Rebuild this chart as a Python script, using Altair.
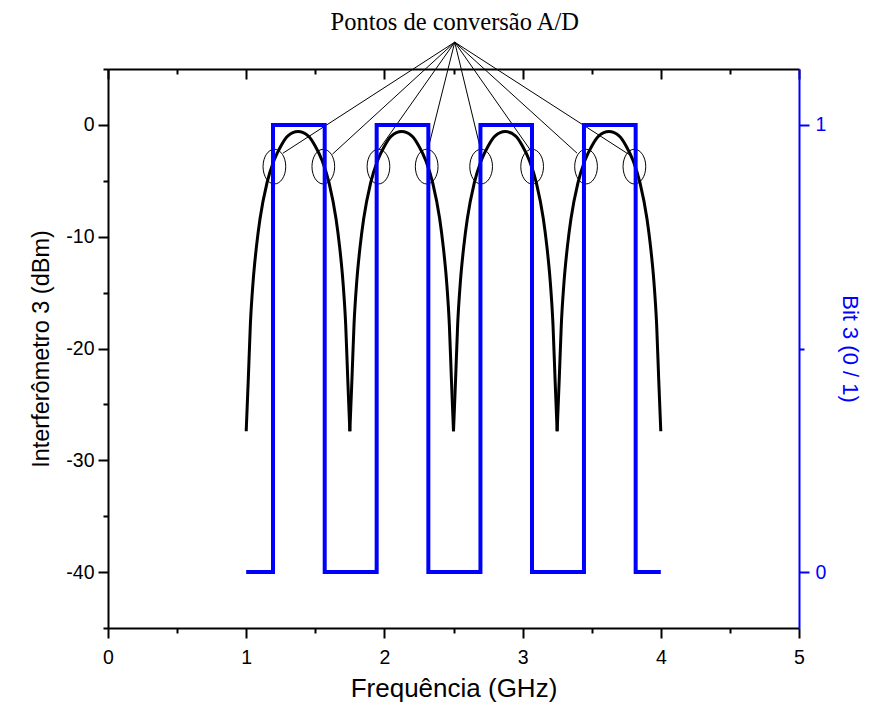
import altair as alt
import pandas as pd

# ---------------- data ----------------
# Interferometer 3 response (frequency GHz, power dBm), one arch per lobe
freq_ghz = [
    1.000, 1.015, 1.030, 1.050, 1.075, 1.100, 1.150, 1.200, 1.250, 1.300, 1.375,
    1.450, 1.500, 1.550, 1.600, 1.650, 1.675, 1.700, 1.720, 1.735, 1.750,
    1.750, 1.765, 1.780, 1.800, 1.825, 1.850, 1.900, 1.950, 2.000, 2.050, 2.125,
    2.200, 2.250, 2.300, 2.350, 2.400, 2.425, 2.450, 2.470, 2.485, 2.500,
    2.500, 2.515, 2.530, 2.550, 2.575, 2.600, 2.650, 2.700, 2.750, 2.800, 2.875,
    2.950, 3.000, 3.050, 3.100, 3.150, 3.175, 3.200, 3.220, 3.235, 3.250,
    3.250, 3.265, 3.280, 3.300, 3.325, 3.350, 3.400, 3.450, 3.500, 3.550, 3.625,
    3.700, 3.750, 3.800, 3.850, 3.900, 3.925, 3.950, 3.970, 3.985, 4.000,
]
interf_dbm = [
    -27.4, -22.8, -17.9, -14.0, -10.8, -8.4, -5.2, -3.2, -1.9, -1.0, -0.6,
    -1.0, -1.9, -3.2, -5.2, -8.4, -10.8, -14.0, -17.9, -22.8, -27.4,
    -27.4, -22.8, -17.9, -14.0, -10.8, -8.4, -5.2, -3.2, -1.9, -1.0, -0.6,
    -1.0, -1.9, -3.2, -5.2, -8.4, -10.8, -14.0, -17.9, -22.8, -27.4,
    -27.4, -22.8, -17.9, -14.0, -10.8, -8.4, -5.2, -3.2, -1.9, -1.0, -0.6,
    -1.0, -1.9, -3.2, -5.2, -8.4, -10.8, -14.0, -17.9, -22.8, -27.4,
    -27.4, -22.8, -17.9, -14.0, -10.8, -8.4, -5.2, -3.2, -1.9, -1.0, -0.6,
    -1.0, -1.9, -3.2, -5.2, -8.4, -10.8, -14.0, -17.9, -22.8, -27.4,
]
arch_id = [1] * 21 + [2] * 21 + [3] * 21 + [4] * 21

# Bit 3 square wave (step-after transitions)
bit_freq = [1.0, 1.194, 1.568, 1.944, 2.318, 2.695, 3.068, 3.444, 3.818, 4.0]
bit_value = [0, 1, 0, 1, 0, 1, 0, 1, 0, 0]

# A/D conversion points (ellipse centres)
ad_freq = [1.204, 1.558, 1.957, 2.306, 2.700, 3.069, 3.459, 3.809]
ad_dbm = [-3.73, -3.73, -3.73, -3.73, -3.73, -3.73, -3.73, -3.73]

# leader lines: from a common apex to each ellipse
leader_end_freq = [1.266, 1.624, 1.959, 2.311, 2.697, 3.064, 3.394, 3.775]
leader_end_dbm = [-2.53, -2.62, -2.24, -2.39, -2.24, -2.39, -2.53, -2.69]
apex_freq = [2.509]
apex_dbm = [7.40]
label_dbm = [8.50]
label_text = ["Pontos de conversão A/D"]

# axis ticks
x_ticks = [0, 0.5, 1, 1.5, 2, 2.5, 3, 3.5, 4, 4.5, 5]
y_ticks = [-45, -40, -35, -30, -25, -20, -15, -10, -5, 0, 5]
bit_ticks = [0, 0.5, 1]

W, H = 691, 559
FONT = "Liberation Sans"

curve_df = pd.DataFrame({"f": freq_ghz, "db": interf_dbm, "arch": arch_id})
bit_df = pd.DataFrame({"f": bit_freq, "b": bit_value})
ad_df = pd.DataFrame({"f": ad_freq, "db": ad_dbm})
lead_df = pd.DataFrame({
    "f": apex_freq * len(leader_end_freq),
    "db": apex_dbm * len(leader_end_freq),
    "f2": leader_end_freq,
    "db2": leader_end_dbm,
})
lab_df = pd.DataFrame({"f": apex_freq, "db": label_dbm, "t": label_text})

x_scale = alt.Scale(domain=[0, 5], nice=False, zero=False)
y_scale = alt.Scale(domain=[-45, 5], nice=False, zero=False)

x_enc = alt.X(
    "f:Q", title="Frequência (GHz)", scale=x_scale,
    axis=alt.Axis(
        orient="bottom", values=x_ticks, labelFlush=False,
        labelExpr="datum.value % 1 === 0 ? '' + datum.value : ''",
        tickSize={"condition": {"test": "datum.value % 1 === 0", "value": 10}, "value": 5},
        labelPadding=10, titlePadding=9, titleFontSize=26,
    ),
)
y_enc = alt.Y(
    "db:Q", title="Interferômetro 3 (dBm)", scale=y_scale,
    axis=alt.Axis(
        orient="left", values=y_ticks, labelFlush=False,
        labelExpr="datum.value % 10 === 0 ? (datum.value < 0 ? '-' + abs(datum.value) : '' + datum.value) : ''",
        tickSize={"condition": {"test": "datum.value % 10 === 0", "value": 10}, "value": 5},
        labelPadding=4, titlePadding=12, titleFontSize=23.5,
    ),
)

curve = alt.Chart(curve_df).mark_line(
    color="black", strokeWidth=3, interpolate="monotone"
).encode(x=x_enc, y=y_enc, detail="arch:N")

ellipse_path = "M -0.654 0 A 0.654 1 0 1 1 0.654 0 A 0.654 1 0 1 1 -0.654 0 Z"
ellipses = alt.Chart(ad_df).mark_point(
    shape=ellipse_path, size=1204, filled=False, color="black", strokeWidth=1, opacity=1
).encode(x=x_enc, y=y_enc)

leaders = alt.Chart(lead_df).mark_rule(color="black", strokeWidth=1).encode(
    x=x_enc, y=y_enc, x2="f2:Q", y2="db2:Q"
)

label = alt.Chart(lab_df).mark_text(
    font="Liberation Serif", fontSize=24.5, color="black", align="center", baseline="alphabetic"
).encode(x=x_enc, y=y_enc, text="t:N")

black_layer = alt.layer(curve, ellipses, leaders, label)

bit_line = alt.Chart(bit_df).mark_line(
    color="#0000ff", strokeWidth=4, interpolate="step-after", strokeJoin="miter"
).encode(
    x=alt.X(
        "f:Q", scale=x_scale, title=None,
        axis=alt.Axis(
            orient="bottom", offset=-H, values=x_ticks, labels=False,
            tickSize={"condition": {"test": "datum.value % 1 === 0", "value": 10}, "value": 5},
        ),
    ),
    y=alt.Y(
        "b:Q", title="Bit 3 (0 / 1)",
        scale=alt.Scale(domain=[-0.125, 1.125], nice=False, zero=False),
        axis=alt.Axis(
            orient="right", values=bit_ticks, labelFlush=False,
            labelExpr="datum.value === 0.5 ? '' : '' + datum.value",
            tickSize={"condition": {"test": "datum.value === 0.5", "value": 5}, "value": 10},
            domainColor="#0000ff", tickColor="#0000ff", labelColor="#0000ff",
            titleColor="#0000ff", labelPadding=6, titlePadding=12, titleFontSize=22,
        ),
    ),
)

chart = alt.layer(black_layer, bit_line).resolve_scale(
    x="independent", y="independent"
).properties(
    width=W, height=H,
    autosize=alt.AutoSizeParams(type="none"),
    padding={"left": 100, "top": 61, "right": 64, "bottom": 75},
).configure_view(stroke=None).configure_axis(
    grid=False, domainWidth=2, tickWidth=2, domainColor="black", tickColor="black",
    labelColor="black", titleColor="black", labelFont=FONT, titleFont=FONT,
    labelFontSize=19.5, titleFontSize=22, titleFontWeight="normal",
)

chart.save("out.html", embed_options={"renderer": "svg", "actions": False})
